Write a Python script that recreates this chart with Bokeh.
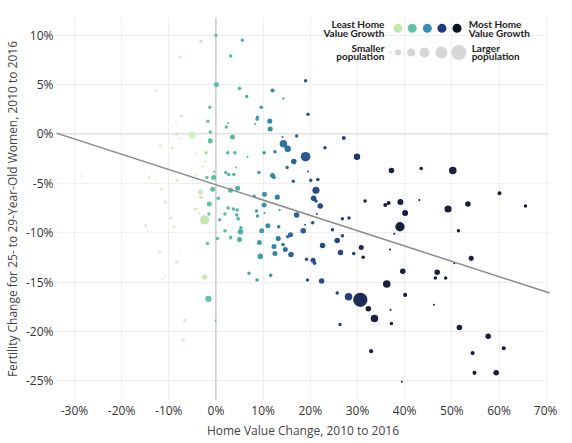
import numpy as np
from bokeh.plotting import figure
from bokeh.models import ColumnDataSource, Span, Slope, Label, FixedTicker, CustomJSTickFormatter
from bokeh.embed import file_html
from bokeh.resources import INLINE

# ---------------- data ----------------
# Home value change 2010-2016 (%)
home_value_change = [
    # least growth (left of / near zero)
    0.0, -3.2, -7.7, 0.1, -12.8, -28.5, -1.3, -7.3, -8.5, -1.7,
    -8.4, -5.0, -7.8, -1.2, -1.2, -11.8, -9.2, -2.1, -4.1, -2.8,
    -0.4, -1.9, -0.5, -13.6, -14.1, -12.5, -8.2, -4.3, -0.7, -3.3,
    -11.5, 0.5, -1.4, -10.7, -4.3, -3.6, -1.5, 0.8, -9.6, -2.4,
    -14.9, -14.5, -9.0, 0.3, -1.8, -11.9, -7.8, -8.3, -10.7, -11.3,
    -2.4, -1.6, -6.6, -0.1, -7.0, -2.2, -3.2,
    # middle growth
    5.6, 3.1, 5.0, 6.5, 12.0, 14.3, 19.0, 9.6, 8.8, 8.7,
    2.6, 2.2, 8.3, 11.4, 11.5, 19.5, 3.5, 17.1, 14.1, 27.1,
    14.3, 15.2, 19.0, 23.1, 29.9, 16.5, 2.5, 4.0, 6.7, 10.2,
    12.5, 15.1, 4.3, 9.1, 12.0, 12.3, 2.1, 2.7, 3.8, 16.4,
    19.5, 20.1, 21.6, 21.2, 20.7, 3.1, 4.6, 8.1, 10.3, 13.0,
    22.1, 21.2, 31.6, 2.6, 3.7, 4.5, 1.9, 4.4, 4.7, 8.6,
    10.2, 8.8, 10.3, 13.5, 17.1, 21.4, 26.8, 28.2, 5.3, 11.0,
    13.3, 18.9, 20.5, 18.5, 24.7, 1.9, 5.2, 9.7, 15.8, 15.2,
    13.2, 14.2, 14.7, 26.8, 25.7, 9.2, 12.3, 22.6, 15.9, 12.5,
    9.4, 26.4, 29.2, 30.8, 31.2, 19.2, 20.6, 20.9, 7.0, 8.7,
    11.6, 19.4, 22.4, 25.7, 28.1, 30.6, 26.3, 3.1, 5.0,
    # most growth
    37.2, 43.5, 50.2, 60.1, 65.6, 35.9, 36.6, 39.1, 43.1, 40.1,
    49.2, 53.4, 39.0, 37.8, 51.4, 36.9, 54.1, 50.5, 39.6, 46.9,
    46.5, 48.7, 36.2, 40.1, 32.3, 33.6, 37.0, 37.2, 46.2, 51.6,
    57.7, 61.0, 54.4, 32.9, 54.8, 59.4, 39.4,
]

# Fertility change for 25- to 29-year-old women (%)
fertility_change = [
    10.0, 9.4, 7.8, 5.0, 4.4, -4.3, 2.7, 1.8, 1.2, 1.3,
    0.0, -0.1, -0.4, 0.2, -0.7, -1.2, -1.4, -1.9, -2.0, -3.3,
    -3.8, -4.4, -4.4, -4.0, -4.4, -4.7, -4.7, -4.2, -5.6, -5.9,
    -5.6, -6.5, -7.1, -6.9, -7.6, -8.0, -8.1, -8.7, -8.5, -8.7,
    -9.3, -9.8, -9.4, -10.6, -11.1, -12.0, -12.0, -13.0, -14.4, -14.7,
    -14.5, -16.7, -18.9, -18.9, -20.9, -2.8, -6.4,
    9.5, 7.9, 4.6, 3.8, 4.4, 3.6, 5.4, 2.7, 1.7, 1.5,
    1.1, 0.7, 1.0, 1.3, 0.5, 2.0, -0.3, -0.2, -0.3, -0.4,
    -1.0, -1.5, -2.3, -1.4, -2.3, -2.8, -1.9, -1.9, -2.3, -1.9,
    -1.8, -3.4, -3.4, -3.9, -4.2, -4.4, -3.9, -4.1, -4.1, -4.8,
    -3.8, -4.7, -4.6, -5.7, -6.5, -5.7, -5.5, -6.3, -6.1, -6.4,
    -7.3, -6.8, -6.8, -7.5, -7.6, -7.7, -8.1, -8.2, -8.6, -7.8,
    -7.2, -8.3, -8.0, -7.7, -8.2, -8.1, -8.6, -8.5, -9.5, -9.3,
    -9.4, -9.2, -9.0, -9.8, -9.7, -9.8, -9.9, -9.8, -10.2, -10.4,
    -10.6, -11.2, -11.7, -10.3, -10.8, -11.0, -11.4, -11.3, -12.2, -12.1,
    -12.4, -12.0, -12.1, -11.5, -12.5, -12.7, -12.8, -13.1, -14.1, -14.8,
    -14.3, -14.8, -14.9, -16.1, -16.5, -16.8, -19.3, -10.5, -10.7,
    -3.7, -3.5, -3.7, -6.0, -7.3, -7.2, -7.0, -6.9, -6.7, -8.0,
    -7.6, -7.1, -9.4, -10.1, -9.8, -11.7, -12.6, -13.1, -13.9, -14.0,
    -14.6, -14.6, -15.2, -16.3, -17.7, -18.7, -17.8, -19.2, -17.3, -19.6,
    -20.5, -21.7, -22.2, -22.0, -24.2, -24.2, -25.1,
]

# Population (thousands)
population = [
    120, 120, 120, 250, 120, 120, 120, 120, 40, 120,
    120, 500, 40, 120, 250, 120, 120, 120, 40, 40,
    40, 120, 250, 40, 120, 40, 120, 40, 250, 250,
    120, 120, 250, 120, 120, 40, 120, 120, 120, 850,
    120, 40, 120, 120, 120, 120, 40, 120, 40, 40,
    250, 400, 120, 40, 120, 40, 120,
    120, 120, 120, 120, 160, 40, 120, 120, 120, 120,
    40, 120, 40, 250, 250, 120, 250, 120, 40, 160,
    550, 400, 900, 120, 400, 300, 120, 120, 40, 120,
    120, 120, 40, 120, 250, 120, 120, 120, 120, 120,
    40, 120, 120, 500, 300, 250, 250, 120, 250, 250,
    300, 120, 120, 120, 120, 120, 120, 120, 120, 120,
    250, 120, 40, 40, 300, 40, 120, 120, 120, 250,
    120, 40, 120, 300, 120, 120, 300, 250, 250, 120,
    250, 120, 250, 120, 300, 250, 250, 300, 300, 250,
    300, 300, 120, 250, 120, 120, 250, 120, 120, 120,
    120, 120, 300, 120, 550, 2000, 120, 120, 250,
    300, 120, 550, 160, 120, 160, 160, 350, 40, 350,
    500, 300, 850, 40, 120, 40, 250, 40, 300, 300,
    120, 120, 550, 160, 300, 550, 40, 120, 40, 300,
    300, 160, 160, 160, 160, 300, 40,
]

trend_gradient = -0.155
trend_intercept = -5.15

x_ticks = [-30, -20, -10, 0, 10, 20, 30, 40, 50, 60, 70]
y_ticks = [-25, -20, -15, -10, -5, 0, 5, 10]

legend_growth_colors = ["#c4e8ab", "#5fc4a6", "#3a8db3", "#1e3a87", "#0b0f25"]
legend_population = [40, 350, 625, 975, 1400, 2200]

# ---------------- styling helpers ----------------
color_stops_x = [-30, -12, -5, -2.2, -1.9, 3, 8, 12, 16, 21, 29, 31.5, 70]
color_stops = ["#eef3e8", "#e2edd5", "#d4ebc2", "#c3e5ad", "#5cbf9f", "#4db5a0",
               "#3a9fa8", "#2b82a2", "#215e92", "#1e4283", "#1c3674", "#0d1538", "#0a0f28"]


def hex2rgb(h):
    h = h.lstrip("#")
    return np.array([int(h[i:i + 2], 16) for i in (0, 2, 4)], dtype=float)


stop_rgb = np.array([hex2rgb(c) for c in color_stops])


def growth_color(v):
    rgb = [np.interp(v, color_stops_x, stop_rgb[:, k]) for k in range(3)]
    return "#%02x%02x%02x" % tuple(int(round(c)) for c in rgb)


def pop_size(pop):
    return 0.32 * np.sqrt(pop)


xs = np.array(home_value_change)
ys = np.array(fertility_change)
pops = np.array(population, dtype=float)
order = np.argsort(-pops, kind="stable")

src = ColumnDataSource(dict(
    x=xs[order], y=ys[order],
    size=pop_size(pops[order]),
    color=[growth_color(v) for v in xs[order]],
))

FONT = "Open Sans"

p = figure(frame_width=493, frame_height=383, x_range=(-33.8, 70.7), y_range=(-27.0, 11.8),
           output_backend="svg", toolbar_location=None,
           min_border_left=47, min_border_right=8, min_border_top=17, min_border_bottom=30)
p.outline_line_color = None
p.background_fill_color = "white"
p.border_fill_color = "white"

for g in (p.xgrid, p.ygrid):
    g.grid_line_color = "#efefef"
    g.grid_line_width = 1
p.xgrid.ticker = FixedTicker(ticks=x_ticks)
p.ygrid.ticker = FixedTicker(ticks=y_ticks)

p.add_layout(Span(location=0, dimension="height", line_color="#b8b8b8", line_width=1, level="underlay"))
p.add_layout(Span(location=0, dimension="width", line_color="#d8d8d8", line_width=1, level="underlay"))

p.scatter(x="x", y="y", size="size", color="color", source=src, marker="circle",
          line_color=None, fill_alpha=0.95)

p.add_layout(Slope(gradient=trend_gradient, y_intercept=trend_intercept,
                   line_color="#8c8c8c", line_width=1.5))

fmt = CustomJSTickFormatter(code="return tick + '%';")
p.xaxis.ticker = FixedTicker(ticks=x_ticks)
p.yaxis.ticker = FixedTicker(ticks=y_ticks)
for ax in (p.xaxis, p.yaxis):
    ax.formatter = fmt
    ax.axis_line_color = None
    ax.major_tick_line_color = None
    ax.minor_tick_line_color = None
    ax.major_tick_out = 0
    ax.major_tick_in = 0
    ax.major_label_text_font = FONT
    ax.major_label_text_font_size = "12px"
    ax.major_label_text_color = "#333333"
    ax.axis_label_text_font = FONT
    ax.axis_label_text_font_size = "12px"
    ax.axis_label_text_font_style = "normal"
    ax.axis_label_text_color = "#444444"
p.xaxis.major_label_standoff = 1
p.yaxis.major_label_standoff = 3
p.xaxis.axis_label_standoff = 0
p.yaxis.axis_label_standoff = 2
p.xaxis.axis_label = "Home Value Change, 2010 to 2016"
p.yaxis.axis_label = "Fertility Change for 25- to 29-Year-Old Women, 2010 to 2016"

# ---------------- legend (top right) ----------------
legend_color_x = [38.6, 41.6, 44.8, 47.9, 51.1]
p.scatter(x=legend_color_x, y=[10.7] * 5, size=9, color=legend_growth_colors,
          line_color=None, marker="circle")
legend_size_x = [37.0, 38.6, 41.4, 44.2, 47.8, 51.5]
p.scatter(x=legend_size_x, y=[8.25] * 6, size=[pop_size(v) for v in legend_population],
          color="#d6d6d6", line_color=None, marker="circle")


def leg_label(x, y, text, align):
    p.add_layout(Label(x=x, y=y, text=text, text_align=align, text_baseline="middle",
                       text_font="Lato", text_font_style="bold", text_font_size="10px",
                       text_color="#222222"))


leg_label(35.7, 11.1, "Least Home", "right")
leg_label(35.7, 10.2, "Value Growth", "right")
leg_label(53.6, 11.1, "Most Home", "left")
leg_label(53.6, 10.2, "Value Growth", "left")
leg_label(35.7, 8.75, "Smaller", "right")
leg_label(35.7, 7.85, "population", "right")
leg_label(54.2, 8.75, "Larger", "left")
leg_label(54.2, 7.85, "population", "left")

open("out.html", "w").write(file_html(p, INLINE))
